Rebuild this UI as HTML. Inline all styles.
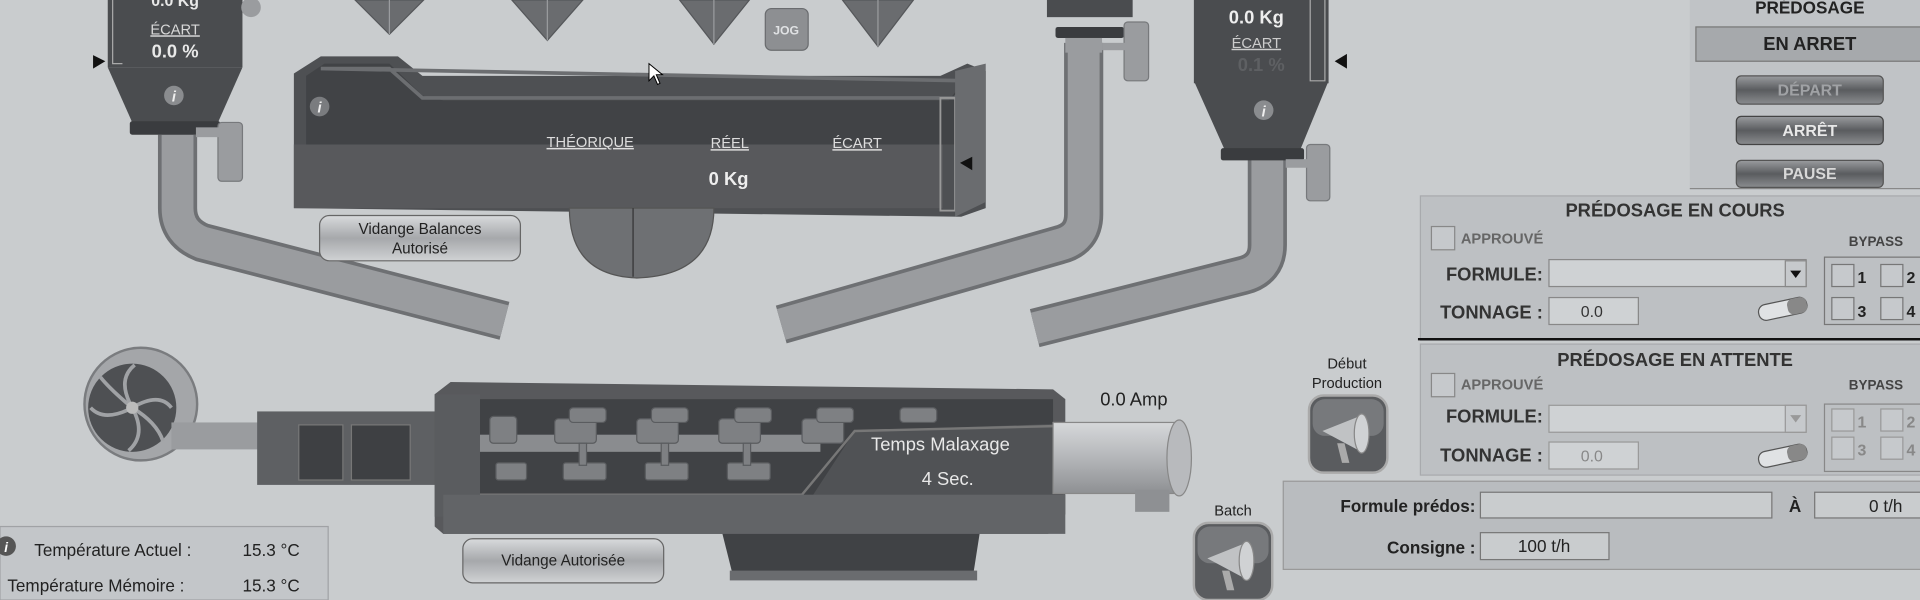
<!DOCTYPE html>
<html><head><meta charset="utf-8"><style>
html,body{margin:0;padding:0;background:#c9ccce;overflow:hidden}
svg{display:block}
text{font-family:"Liberation Sans",sans-serif}
</style></head><body>
<svg width="1920" height="600" viewBox="0 0 1568 490" preserveAspectRatio="none" xmlns="http://www.w3.org/2000/svg">
<defs>
<linearGradient id="btn" x1="0" y1="0" x2="0" y2="1"><stop offset="0" stop-color="#d8dadc"/><stop offset="0.5" stop-color="#a6a8ab"/><stop offset="1" stop-color="#d0d2d4"/></linearGradient>
<linearGradient id="dbtn" x1="0" y1="0" x2="0" y2="1"><stop offset="0" stop-color="#9a9c9f"/><stop offset="0.5" stop-color="#5a5c5f"/><stop offset="1" stop-color="#8a8c8f"/></linearGradient>
<linearGradient id="cyl" x1="0" y1="0" x2="0" y2="1"><stop offset="0" stop-color="#d6d8da"/><stop offset="0.5" stop-color="#b4b6b9"/><stop offset="1" stop-color="#8e9093"/></linearGradient>
<linearGradient id="horn" x1="0" y1="0" x2="0" y2="1"><stop offset="0" stop-color="#c8cacc"/><stop offset="1" stop-color="#55575a"/></linearGradient>
</defs>
<rect width="1568" height="490" fill="#c9ccce"/>

<!-- top triangles -->
<g fill="#6a6c6f" stroke="#55575a">
<polygon points="290,0 346,0 318,28"/><polygon points="418,0 476,0 447,33"/>
<polygon points="555,0 612,0 583,36"/><polygon points="688,0 746,0 717,38"/>
</g>
<g stroke="#9a9c9f"><line x1="318" y1="0" x2="318" y2="28"/><line x1="447" y1="0" x2="447" y2="33"/><line x1="583" y1="0" x2="583" y2="36"/><line x1="717" y1="0" x2="717" y2="38"/></g>
<rect x="625" y="7" width="35" height="34" rx="5" fill="#8d8f92" stroke="#6a6c6f"/>
<text x="642" y="28" font-size="10" font-weight="bold" fill="#e0e2e4" text-anchor="middle">JOG</text>

<!-- left pipe -->
<path d="M145 110 L145 170 Q145 190 165 198 L412 262" fill="none" stroke="#6e7073" stroke-width="32"/>
<path d="M145 110 L145 170 Q145 190 165 198 L412 262" fill="none" stroke="#9a9c9f" stroke-width="26"/>
<!-- left hopper -->
<rect x="88" y="0" width="110" height="55" fill="#4a4c4f"/>
<polygon points="88,55 198,55 178,100 108,100" fill="#4a4c4f"/>
<rect x="106" y="99" width="74" height="11" rx="2" fill="#3a3c3f"/>
<rect x="178" y="100" width="20" height="48" rx="3" fill="#9a9c9f" stroke="#77797c"/>
<rect x="160" y="104" width="20" height="8" fill="#9a9c9f"/>
<circle cx="205" cy="6" r="8" fill="#9a9c9f"/>
<circle cx="142" cy="78" r="8" fill="#8a8c8f"/><text x="142" y="83" font-size="12" font-weight="bold" font-style="italic" fill="#eee" text-anchor="middle">i</text>
<text x="143" y="5" font-size="13" font-weight="bold" fill="#e8e8e8" text-anchor="middle">0.0 Kg</text>
<text x="143" y="28" font-size="12" fill="#d8d8d8" text-anchor="middle" text-decoration="underline">ÉCART</text>
<text x="143" y="47" font-size="15" font-weight="bold" fill="#e8e8e8" text-anchor="middle">0.0 %</text>
<polygon points="76,45 86,50 76,56" fill="#111"/>
<polyline points="92,0 92,52 100,52" fill="none" stroke="#aaa" stroke-width="1"/>

<!-- weigh trough -->
<polygon points="240,60 262,46 325,46 345,62 768,62 790,52 805,58 805,170 785,177 240,170" fill="#4e5053"/>
<polygon points="250,62 265,52 318,52 345,78 362,82 775,82 790,62 790,118 250,118" fill="#414346"/>
<polygon points="262,56 318,56 345,80 780,80 790,66" fill="none" stroke="#6c6e71" stroke-width="3"/>
<rect x="240" y="118" width="530" height="52" fill="#58595c"/>
<rect x="768" y="80" width="12" height="92" fill="none" stroke="#999" stroke-width="1.5"/>
<polygon points="780,58 805,52 805,165 780,177" fill="#6a6c6f"/>
<polygon points="784,133 794,128 794,139" fill="#111"/>
<circle cx="261" cy="87" r="8" fill="#7a7c7f"/><text x="261" y="92" font-size="12" font-weight="bold" font-style="italic" fill="#eee" text-anchor="middle">i</text>
<text x="482" y="120" font-size="12" fill="#ddd" text-anchor="middle" text-decoration="underline">THÉORIQUE</text>
<text x="596" y="121" font-size="12" fill="#ddd" text-anchor="middle" text-decoration="underline">RÉEL</text>
<text x="700" y="121" font-size="12" fill="#ddd" text-anchor="middle" text-decoration="underline">ÉCART</text>
<text x="595" y="151" font-size="15" font-weight="bold" fill="#eee" text-anchor="middle">0 Kg</text>
<path d="M465 170 L583 170 Q583 225 520 227 Q465 225 465 170 Z" fill="#6e7073" stroke="#555"/>
<line x1="517" y1="170" x2="517" y2="226" stroke="#333"/>
<rect x="261" y="176" width="164" height="37" rx="8" fill="url(#btn)" stroke="#666"/>
<text x="343" y="191" font-size="12.5" fill="#222" text-anchor="middle">Vidange Balances</text>
<text x="343" y="207" font-size="12.5" fill="#222" text-anchor="middle">Autorisé</text>

<!-- right pipes -->
<path d="M885 35 L885 175 Q885 195 865 200 L638 265" fill="none" stroke="#6e7073" stroke-width="32"/>
<path d="M885 35 L885 175 Q885 195 865 200 L638 265" fill="none" stroke="#9a9c9f" stroke-width="26"/>
<rect x="855" y="0" width="70" height="14" fill="#4a4c4f"/>
<rect x="862" y="22" width="56" height="9" rx="2" fill="#3a3c3f"/>
<rect x="870" y="31" width="30" height="12" fill="#9a9c9f"/>
<rect x="918" y="18" width="20" height="48" rx="3" fill="#9a9c9f" stroke="#77797c"/>
<rect x="900" y="35" width="20" height="6" fill="#9a9c9f"/>

<path d="M1035 130 L1035 200 Q1035 220 1015 225 L845 268" fill="none" stroke="#6e7073" stroke-width="32"/>
<path d="M1035 130 L1035 200 Q1035 220 1015 225 L845 268" fill="none" stroke="#9a9c9f" stroke-width="26"/>
<rect x="975" y="0" width="110" height="68" fill="#4a4c4f"/>
<polygon points="975,66 1085,66 1062,122 1000,122" fill="#4a4c4f"/>
<rect x="997" y="121" width="68" height="10" rx="2" fill="#3a3c3f"/>
<rect x="1067" y="118" width="19" height="46" rx="3" fill="#9a9c9f" stroke="#77797c"/>
<rect x="1050" y="130" width="18" height="7" fill="#9a9c9f"/>
<polyline points="1070,0 1070,66 1082,66 1082,0" fill="none" stroke="#aaa"/>
<polygon points="1090,50 1100,44 1100,56" fill="#111"/>
<circle cx="1032" cy="90" r="8" fill="#8a8c8f"/><text x="1032" y="95" font-size="12" font-weight="bold" font-style="italic" fill="#eee" text-anchor="middle">i</text>
<text x="1026" y="19" font-size="15" font-weight="bold" fill="#eee" text-anchor="middle">0.0 Kg</text>
<text x="1026" y="39" font-size="12" fill="#ccc" text-anchor="middle" text-decoration="underline">ÉCART</text>
<text x="1030" y="58" font-size="15" font-weight="bold" fill="#5e6063" text-anchor="middle">0.1 %</text>

<!-- fan -->
<circle cx="115" cy="330" r="46" fill="#a4a6a9" stroke="#7a7c7f" stroke-width="2"/>
<circle cx="108" cy="333" r="36" fill="#4e5053"/>
<g stroke="#a0a2a5" stroke-width="3" fill="none">
<path d="M108 333 Q95 310 110 298"/><path d="M108 333 Q130 320 140 333"/><path d="M108 333 Q120 355 105 368"/><path d="M108 333 Q85 345 74 333"/><path d="M108 333 Q90 318 82 308"/><path d="M108 333 Q128 345 133 360"/>
</g>
<circle cx="108" cy="333" r="5" fill="#bbb"/>
<rect x="140" y="345" width="75" height="22" fill="#9a9c9f"/>
<!-- connector -->
<rect x="210" y="336" width="155" height="60" fill="#5e6063"/>
<rect x="244" y="347" width="36" height="45" fill="#3e4043" stroke="#777"/>
<rect x="287" y="347" width="48" height="45" fill="#3e4043" stroke="#777"/>
<!-- mixer body -->
<polygon points="355,322 368,312 860,318 870,326 870,420 856,436 362,436 355,430" fill="#58595c"/>
<rect x="390" y="326" width="470" height="92" fill="#404245"/>
<rect x="390" y="355" width="280" height="14" fill="#8a8c8f"/>
<g fill="#7e8083" stroke="#5a5c5f">
<rect x="400" y="340" width="22" height="22" rx="3"/><rect x="453" y="342" width="34" height="20" rx="3"/><rect x="520" y="342" width="34" height="20" rx="3"/><rect x="587" y="342" width="34" height="20" rx="3"/><rect x="655" y="342" width="34" height="20" rx="3"/>
<rect x="465" y="333" width="30" height="12" rx="3"/><rect x="532" y="333" width="30" height="12" rx="3"/><rect x="600" y="333" width="30" height="12" rx="3"/><rect x="667" y="333" width="30" height="12" rx="3"/><rect x="735" y="333" width="30" height="12" rx="3"/>
<rect x="405" y="378" width="25" height="14" rx="2"/><rect x="460" y="378" width="35" height="14" rx="2"/><rect x="527" y="378" width="35" height="14" rx="2"/><rect x="594" y="378" width="35" height="14" rx="2"/>
<rect x="473" y="362" width="6" height="18"/><rect x="540" y="362" width="6" height="18"/><rect x="607" y="362" width="6" height="18"/>
</g>
<polygon points="698,352 868,346 868,418 655,418" fill="#505255"/>
<polyline points="390,404 655,404 698,352 860,348" fill="none" stroke="#777" stroke-width="2"/>
<rect x="355" y="322" width="37" height="100" fill="#5a5c5f"/>
<rect x="362" y="404" width="508" height="32" fill="#626467"/>
<polygon points="590,436 800,436 795,468 598,468" fill="#404245"/>
<rect x="596" y="466" width="202" height="8" fill="#6a6c6f"/>
<text x="768" y="368" font-size="15" fill="#e8e8e8" text-anchor="middle">Temps Malaxage</text>
<text x="774" y="396" font-size="15" fill="#e8e8e8" text-anchor="middle">4 Sec.</text>
<!-- motor -->
<rect x="860" y="345" width="102" height="58" fill="url(#cyl)" stroke="#888"/>
<ellipse cx="963" cy="374" rx="10" ry="31" fill="#b8babd" stroke="#888"/>
<rect x="927" y="400" width="28" height="18" fill="#8e9093"/>
<text x="926" y="331" font-size="15" fill="#222" text-anchor="middle">0.0 Amp</text>
<rect x="378" y="440" width="164" height="36" rx="8" fill="url(#btn)" stroke="#666"/>
<text x="460" y="462" font-size="12.5" fill="#222" text-anchor="middle">Vidange Autorisée</text>

<!-- temperature panel -->
<rect x="0" y="430" width="268" height="60" fill="#c3c6c9" stroke="#a0a2a5"/>
<circle cx="5" cy="446" r="8" fill="#555"/><text x="5" y="451" font-size="11" font-style="italic" font-weight="bold" fill="#fff" text-anchor="middle">i</text>
<text x="28" y="454" font-size="14" fill="#222">Température Actuel :</text>
<text x="198" y="454" font-size="14" fill="#222">15.3 °C</text>
<text x="6" y="483" font-size="14" fill="#222">Température Mémoire :</text>
<text x="198" y="483" font-size="14" fill="#222">15.3 °C</text>

<!-- horn buttons -->
<text x="1100" y="301" font-size="12" fill="#222" text-anchor="middle">Début</text>
<text x="1100" y="317" font-size="12" fill="#222" text-anchor="middle">Production</text>
<g id="hornbtn">
<rect x="1069" y="323" width="64" height="63" rx="12" fill="#5a5c5f" stroke="#aaa" stroke-width="2"/>
<rect x="1072" y="326" width="58" height="30" rx="10" fill="#8a8c8f" opacity="0.6"/>
<polygon points="1080,352 1110,340 1110,368" fill="#c0c2c4"/>
<ellipse cx="1112" cy="354" rx="6" ry="16" fill="#d0d2d4" stroke="#888"/>
<polygon points="1092,362 1098,362 1102,378 1096,378" fill="#aaa"/>
</g>
<text x="1007" y="421" font-size="12" fill="#222" text-anchor="middle">Batch</text>
<use href="#hornbtn" transform="translate(-94,104)"/>

<!-- predosage control -->
<rect x="1380" y="0" width="188" height="155" fill="#c0c3c6"/>
<line x1="1380" y1="154" x2="1568" y2="154" stroke="#888"/>
<text x="1478" y="11" font-size="14" font-weight="bold" fill="#222" text-anchor="middle">PRÉDOSAGE</text>
<rect x="1385" y="22" width="190" height="28" fill="#a6a9ac" stroke="#777"/>
<text x="1478" y="41" font-size="15" font-weight="bold" fill="#222" text-anchor="middle">EN ARRET</text>
<rect x="1418" y="62" width="120" height="23" rx="4" fill="url(#dbtn)" stroke="#555"/>
<text x="1478" y="78" font-size="13" font-weight="bold" fill="#a0a2a5" text-anchor="middle">DÉPART</text>
<rect x="1418" y="95" width="120" height="23" rx="4" fill="url(#dbtn)" stroke="#444"/>
<text x="1478" y="111" font-size="13" font-weight="bold" fill="#e8e8e8" text-anchor="middle">ARRÊT</text>
<rect x="1418" y="131" width="120" height="22" rx="4" fill="url(#dbtn)" stroke="#555"/>
<text x="1478" y="146" font-size="13" font-weight="bold" fill="#d8d8d8" text-anchor="middle">PAUSE</text>

<!-- en cours -->
<rect x="1160" y="160" width="410" height="118" fill="#bdc0c3" stroke="#a8aaad"/>
<line x1="1158" y1="277" x2="1568" y2="277" stroke="#111" stroke-width="2"/>
<text x="1368" y="177" font-size="15" font-weight="bold" fill="#333" text-anchor="middle">PRÉDOSAGE EN COURS</text>
<rect x="1169" y="185" width="19" height="19" fill="#c6c9cc" stroke="#888"/>
<text x="1193" y="199" font-size="12" font-weight="bold" fill="#666">APPROUVÉ</text>
<text x="1532" y="201" font-size="11" font-weight="bold" fill="#444" text-anchor="middle">BYPASS</text>
<text x="1260" y="229" font-size="15" font-weight="bold" fill="#333" text-anchor="end">FORMULE:</text>
<rect x="1265" y="212" width="210" height="22" fill="#cfd2d4" stroke="#888"/>
<rect x="1458" y="213" width="17" height="21" fill="#c6c9cc" stroke="#888"/>
<polygon points="1462,221 1471,221 1466.5,227" fill="#111"/>
<text x="1260" y="260" font-size="15" font-weight="bold" fill="#333" text-anchor="end">TONNAGE :</text>
<rect x="1265" y="243" width="73" height="22" fill="#cfd2d4" stroke="#888"/>
<text x="1300" y="259" font-size="13" fill="#333" text-anchor="middle">0.0</text>
<g transform="translate(1435,250) rotate(-12)"><rect x="0" y="0" width="40" height="13" rx="6" fill="#e0e2e4" stroke="#555"/><rect x="24" y="0" width="16" height="13" rx="5" fill="#888"/></g>
<rect x="1490" y="210" width="80" height="55" fill="none" stroke="#777"/>
<g fill="#c6c9cc" stroke="#777"><rect x="1496" y="216" width="18" height="18"/><rect x="1536" y="216" width="18" height="18"/><rect x="1496" y="243" width="18" height="18"/><rect x="1536" y="243" width="18" height="18"/></g>
<g font-size="13" font-weight="bold" fill="#222"><text x="1517" y="231">1</text><text x="1557" y="231">2</text><text x="1517" y="259">3</text><text x="1557" y="259">4</text></g>

<!-- en attente -->
<rect x="1160" y="281" width="410" height="107" fill="#bdc0c3" stroke="#a8aaad"/>
<text x="1368" y="299" font-size="15" font-weight="bold" fill="#333" text-anchor="middle">PRÉDOSAGE EN ATTENTE</text>
<rect x="1169" y="305" width="19" height="19" fill="#c6c9cc" stroke="#888"/>
<text x="1193" y="318" font-size="12" font-weight="bold" fill="#666">APPROUVÉ</text>
<text x="1532" y="318" font-size="11" font-weight="bold" fill="#444" text-anchor="middle">BYPASS</text>
<text x="1260" y="345" font-size="15" font-weight="bold" fill="#333" text-anchor="end">FORMULE:</text>
<rect x="1265" y="331" width="210" height="22" fill="#cfd2d4" stroke="#999"/>
<rect x="1458" y="331" width="17" height="22" fill="#c6c9cc" stroke="#999"/>
<polygon points="1462,339 1471,339 1466.5,345" fill="#999"/>
<text x="1260" y="377" font-size="15" font-weight="bold" fill="#333" text-anchor="end">TONNAGE :</text>
<rect x="1265" y="361" width="73" height="22" fill="#cfd2d4" stroke="#999"/>
<text x="1300" y="377" font-size="13" fill="#888" text-anchor="middle">0.0</text>
<g transform="translate(1435,370) rotate(-12)"><rect x="0" y="0" width="40" height="13" rx="6" fill="#e0e2e4" stroke="#555"/><rect x="24" y="0" width="16" height="13" rx="5" fill="#888"/></g>
<rect x="1490" y="330" width="80" height="55" fill="none" stroke="#888"/>
<g fill="#c6c9cc" stroke="#999"><rect x="1496" y="334" width="18" height="18"/><rect x="1536" y="334" width="18" height="18"/><rect x="1496" y="357" width="18" height="18"/><rect x="1536" y="357" width="18" height="18"/></g>
<g font-size="13" font-weight="bold" fill="#888"><text x="1517" y="349">1</text><text x="1557" y="349">2</text><text x="1517" y="372">3</text><text x="1557" y="372">4</text></g>

<!-- bottom panel -->
<rect x="1048" y="393" width="522" height="72" fill="#b9bcbf" stroke="#999"/>
<text x="1205" y="418" font-size="14" font-weight="bold" fill="#222" text-anchor="end">Formule prédos:</text>
<rect x="1209" y="402" width="238" height="21" fill="#c9ccce" stroke="#777"/>
<text x="1466" y="418" font-size="14" font-weight="bold" fill="#222" text-anchor="middle">À</text>
<rect x="1482" y="402" width="90" height="21" fill="#c9ccce" stroke="#777"/>
<text x="1540" y="418" font-size="14" fill="#222" text-anchor="middle">0 t/h</text>
<text x="1205" y="452" font-size="14" font-weight="bold" fill="#222" text-anchor="end">Consigne :</text>
<rect x="1209" y="435" width="105" height="22" fill="#c9ccce" stroke="#777"/>
<text x="1261" y="451" font-size="14" fill="#222" text-anchor="middle">100 t/h</text>

<!-- cursor -->
<polygon points="530,52 530,66 534,62 537,69 539,68 536,61 541,61" fill="#fff" stroke="#000" stroke-width="0.8"/>
</svg>
</body></html>
